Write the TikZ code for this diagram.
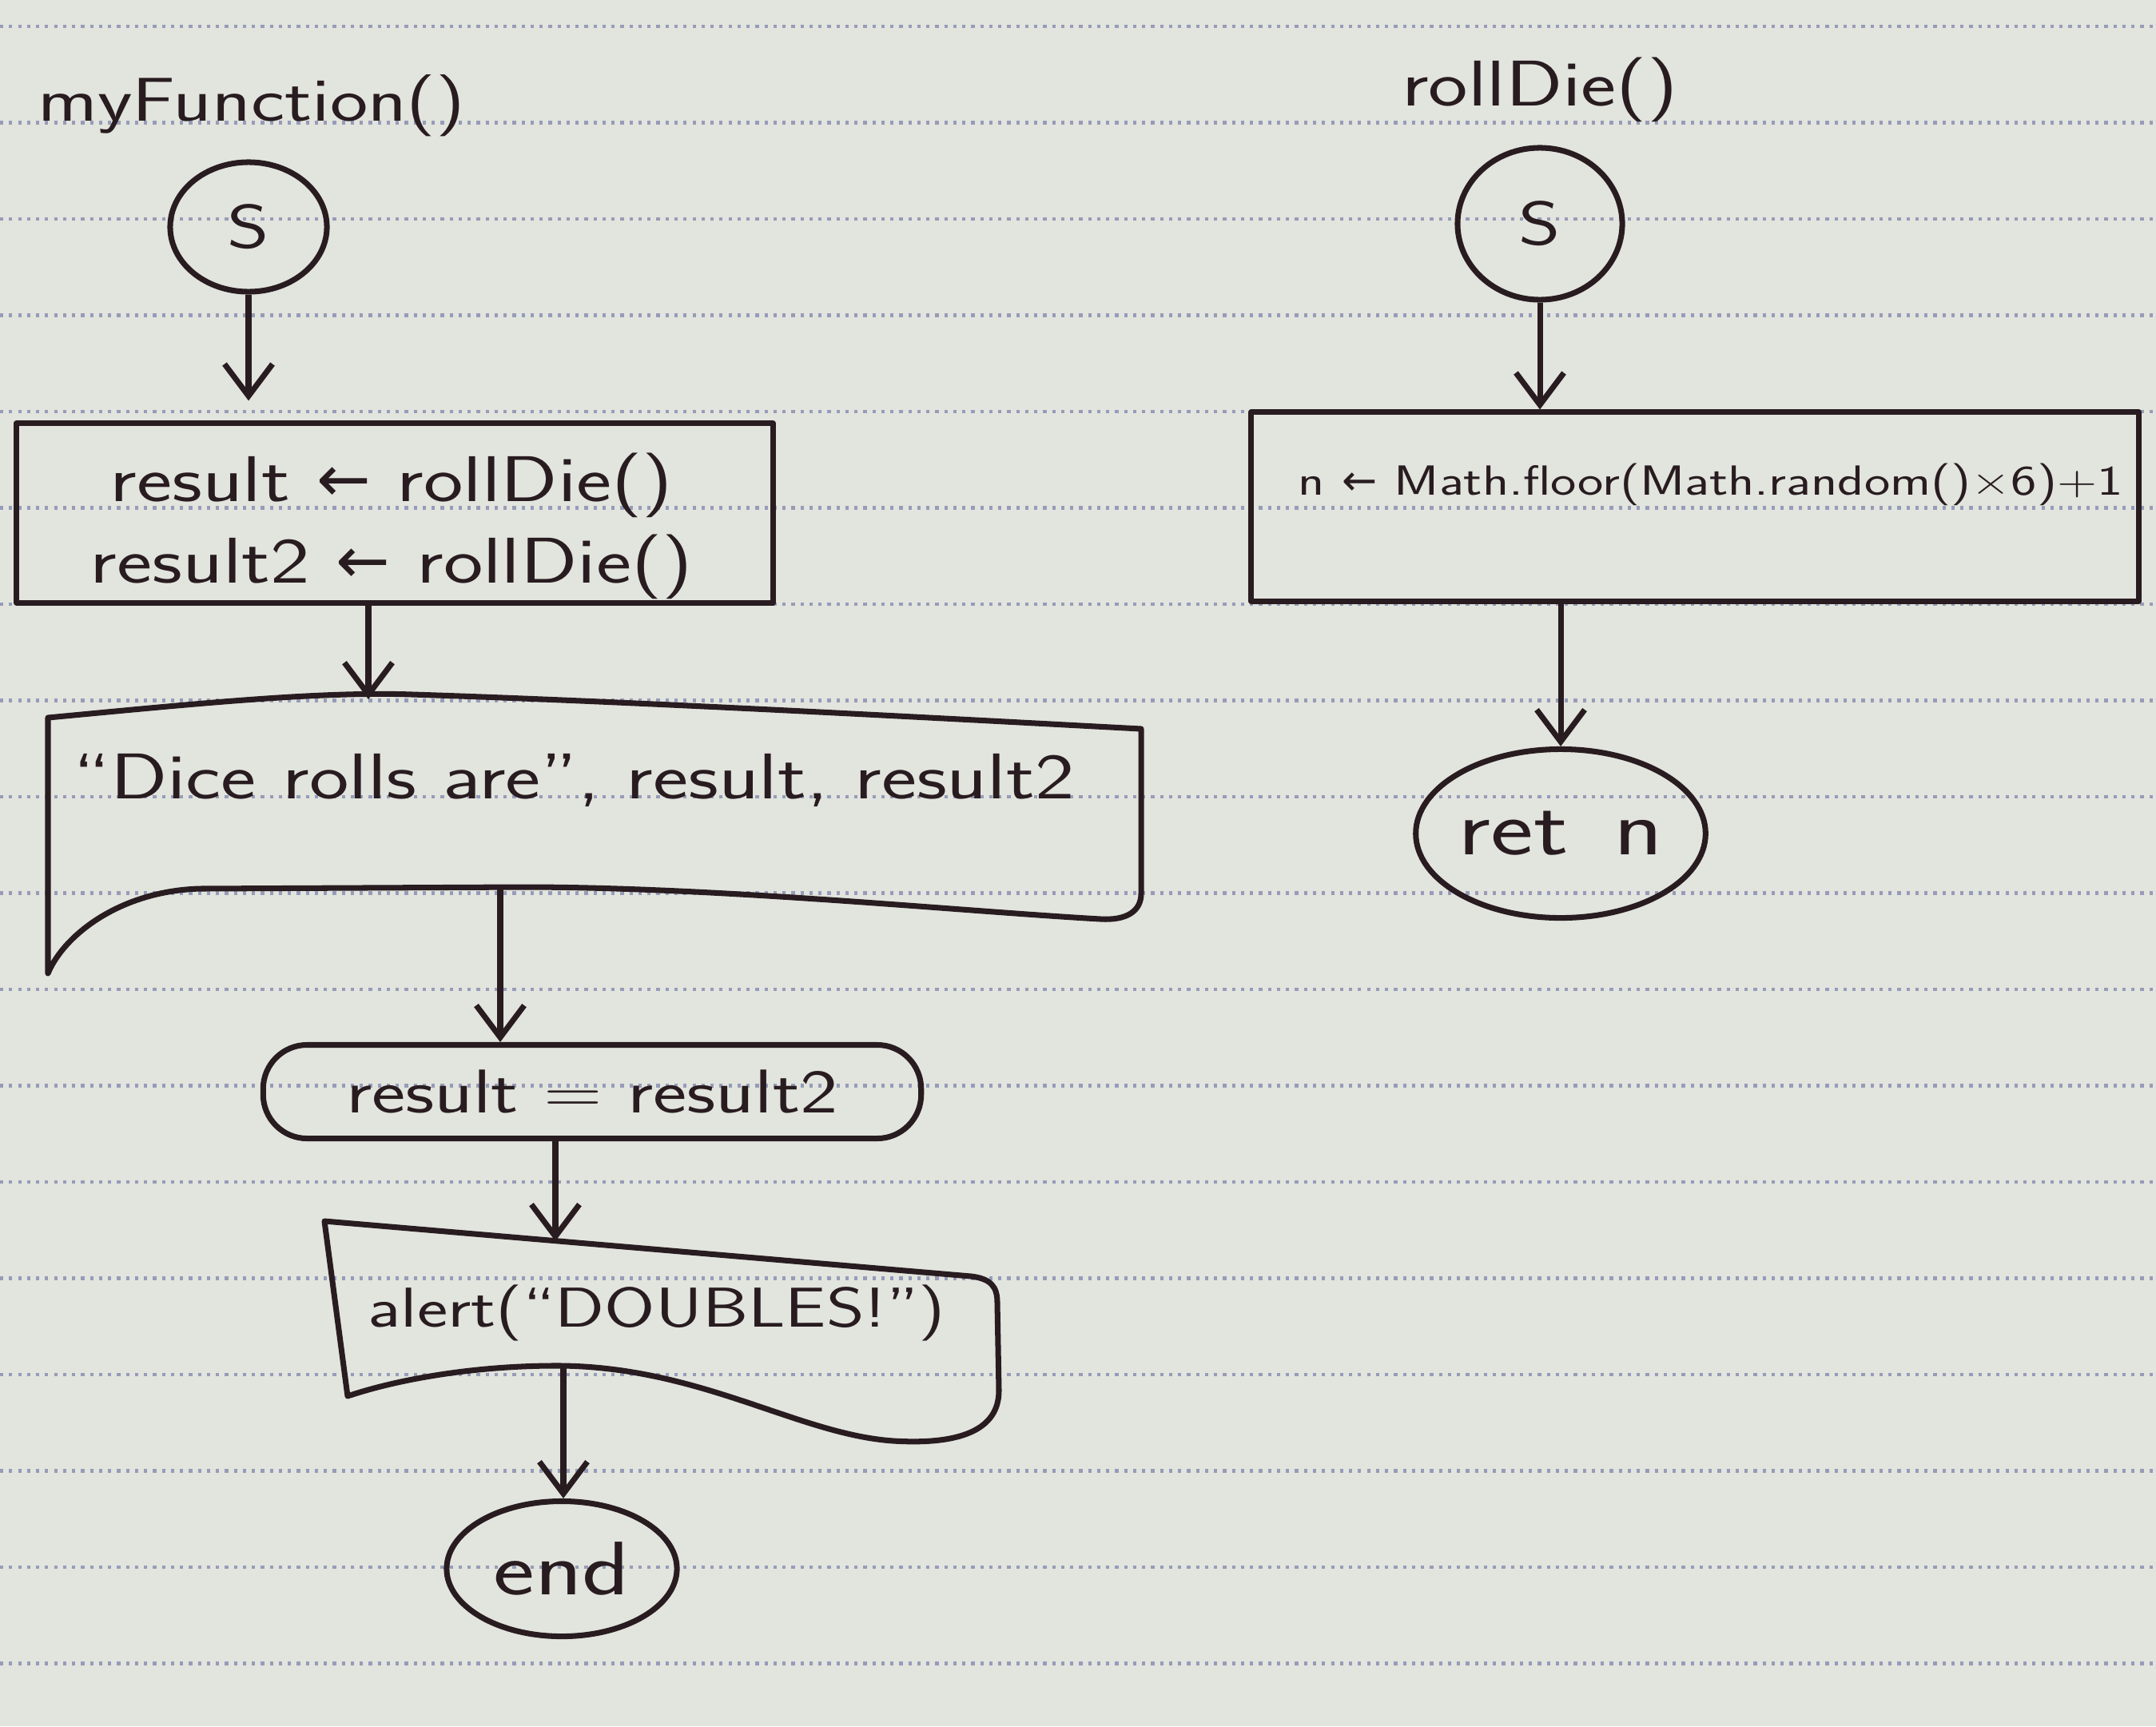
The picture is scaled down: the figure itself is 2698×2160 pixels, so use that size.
\documentclass[tikz,border=0pt]{standalone}
\usepackage{fontspec}
\setsansfont{Latin Modern Sans}[FakeStretch=1.3]
\renewcommand{\familydefault}{\sfdefault}
\newfontfamily\symfont{DejaVu Sans}
\newcommand{\getsarrow}{{\symfont ←}}
\usetikzlibrary{arrows.meta,shapes.geometric}
\definecolor{inkc}{RGB}{40,28,32}
\definecolor{paper}{RGB}{226,228,222}
\definecolor{rulec}{RGB}{150,156,184}

\begin{document}
\begin{tikzpicture}[x=0.01cm,y=-0.01cm]
\tikzstyle{every node}+=[text=inkc,font=\fontsize{22}{28}\selectfont]
\tikzstyle{ink}=[draw=inkc,line width=2pt,line join=round]
\tikzstyle{arr}=[ink,-{Straight Barb[length=0.4cm,width=0.6cm]}]
\tikzstyle{startnode}=[ink,ellipse,inner sep=0pt]
\tikzstyle{procbox}=[ink,rectangle,inner sep=0pt]
% paper
\fill [paper] (0,0) rectangle (2698,2160);
\useasboundingbox (0,0) rectangle (2698,2160);
\foreach \k in {0,...,17}
  \draw [rulec,dotted,line width=1.2pt] (0,33+120.5*\k) -- (2698,33+120.5*\k);
% myFunction()
\node (fn1) at (315,132) [font=\fontsize{22}{28}\selectfont] {myFunction()};
\node [startnode,minimum width=1.96cm,minimum height=1.62cm] (s1) at (311,284) {S};
\node [procbox,minimum width=9.46cm,minimum height=2.24cm] (roll) at (494,642) {};
\node [align=center,font=\fontsize{23}{29}\selectfont] (rolltxt) at (490,658)
  {result \getsarrow{} rollDie()\\result2 \getsarrow{} rollDie()};
\node [font=\fontsize{23}{28}\selectfont] (show) at (718,976) {“Dice rolls are”, result, result2};
\draw [ink] (60,898) .. controls (250,880) and (400,865) .. (516,869)
  .. controls (800,878) and (1200,900) .. (1428,912) -- (1428,1118)
  .. controls (1428,1140) and (1410,1152) .. (1377,1150)
  .. controls (1200,1140) and (900,1110) .. (654,1110) -- (250,1112)
  .. controls (150,1115) and (80,1170) .. (60,1218) -- cycle;
\coordinate (showtop) at (461,875);
\coordinate (showbot) at (626,1110);
\node [ink,rectangle,rounded corners=0.55cm,minimum width=8.23cm,minimum height=1.17cm] (cmp) at (741,1366) {result = result2};
\node [font=\fontsize{20}{26}\selectfont] (alert) at (822,1643) {alert(“DOUBLES!”)};
\draw [ink] (406,1528) -- (1215,1597) .. controls (1240,1600) and (1248,1610) .. (1248,1630)
  -- (1250,1740) .. controls (1250,1790) and (1200,1808) .. (1118,1803)
  .. controls (1000,1795) and (880,1712) .. (705,1709)
  .. controls (600,1708) and (500,1725) .. (435,1747) -- cycle;
\coordinate (alerttop) at (695,1553);
\coordinate (alertbot) at (705,1709);
\node [startnode,minimum width=2.88cm,minimum height=1.69cm,font=\fontsize{27}{32}\selectfont] (stop) at (703,1963) {end};
% rollDie()
\node (fn2) at (1927,112) [font=\fontsize{23}{28}\selectfont] {rollDie()};
\node [startnode,minimum width=2.06cm,minimum height=1.9cm] (s2) at (1927,280) {S};
\node [procbox,minimum width=11.1cm,minimum height=2.36cm] (rand) at (2121,634) {};
\node [anchor=west,font=\fontsize{15}{19}\selectfont] (randtxt) at (1612,606) {n \getsarrow{} Math.floor(Math.random()×6)+1};
\node [startnode,minimum width=3.62cm,minimum height=2.11cm,font=\fontsize{28}{32}\selectfont] (ret) at (1953,1043) {ret\, n};
% arrows
\draw [arr,shorten >=0.25cm] (s1) -- (s1.south |- roll.north);
\draw [arr] (showtop |- roll.south) -- (showtop);
\draw [arr] (showbot) -- (showbot |- cmp.north);
\draw [arr] (alerttop |- cmp.south) -- (alerttop);
\draw [arr] (alertbot) -- (alertbot |- stop.north);
\draw [arr] (s2) -- (s2.south |- rand.north);
\draw [arr] (ret.north |- rand.south) -- (ret);
\end{tikzpicture}
\end{document}
